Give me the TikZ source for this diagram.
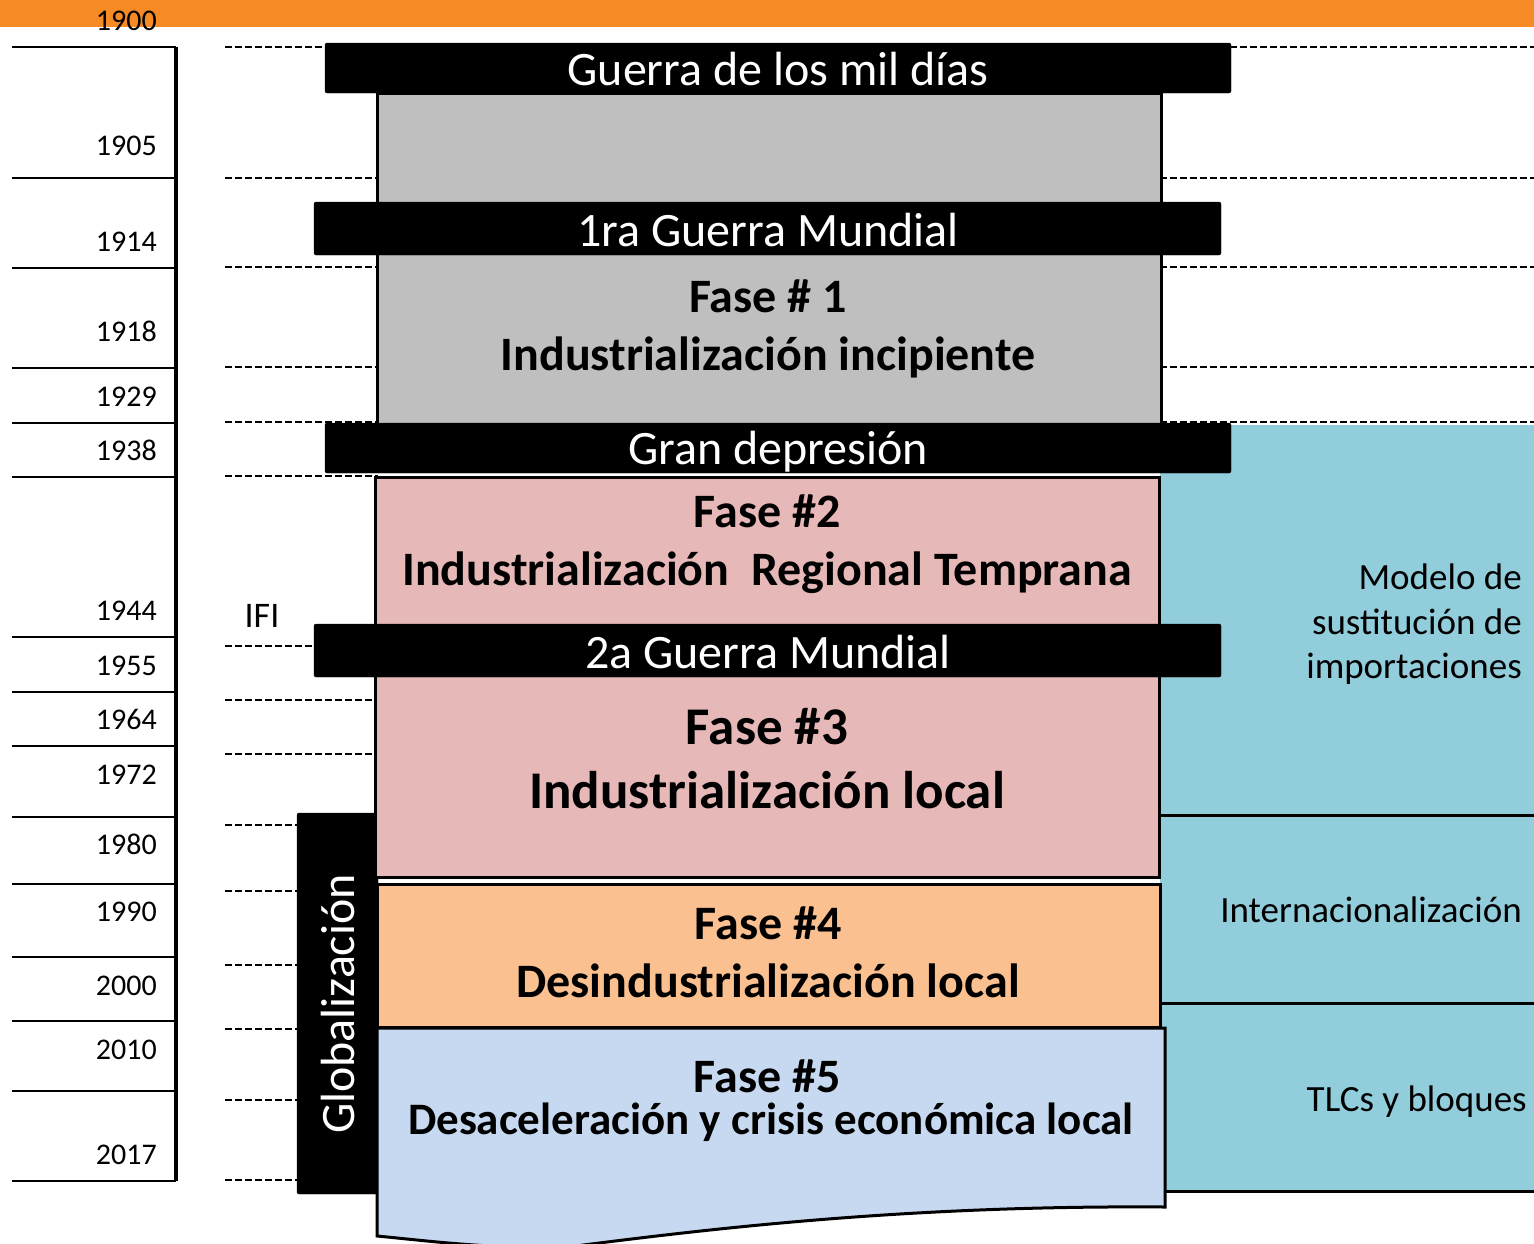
\documentclass[tikz,border=0pt]{standalone}
\usepackage{fontspec}
\setmainfont{Carlito}
\definecolor{obar}{HTML}{F68B26}
\definecolor{gblock}{HTML}{BFBFBF}
\definecolor{pblock}{HTML}{E6B8B7}
\definecolor{oblock}{HTML}{FAC090}
\definecolor{lblock}{HTML}{C6D9F1}
\definecolor{bregion}{HTML}{92CDDC}
\newcommand{\fsz}[1]{\fontsize{#1}{#1}\selectfont}
\tikzset{
  yearlbl/.style={anchor=base east, inner sep=0pt, font=\fsz{30}},
  tick/.style={line width=2.5pt},
  dashln/.style={line width=1.8pt, dash pattern=on 7pt off 3pt},
  blackbar/.style={fill=black, draw=black, rounded corners=2pt},
  bartext/.style={anchor=base, inner sep=0pt, text=white, font=\fsz{48}},
  phase/.style={anchor=base, inner sep=0pt, font=\fsz{48}\bfseries},
  block/.style={draw=black, line width=3pt},
  rtext/.style={anchor=base east, inner sep=0pt, font=\fsz{37}},
}
\begin{document}
\begin{tikzpicture}[x=1pt,y=-1pt]
\useasboundingbox (0,0) rectangle (1534,1243);
% orange title bar
\fill[obar] (0,0) rectangle (1534,27);
% right blue region
\fill[bregion] (1160,425) rectangle (1534,1191);
\draw[line width=3pt] (1160,815) -- (1534,815);
\draw[line width=3pt] (1160,1003) -- (1534,1003);
\draw[line width=3pt] (1160,1191) -- (1534,1191);
% timeline
\draw[line width=4pt] (176,47) -- (176,1181);
\foreach \yy in {47,178,268,368,423,477,637,692,746,817,884,957,1021,1091,1181}
  \draw[tick] (12,\yy) -- (176,\yy);
\node[yearlbl] (y1900) at (157,30) {1900};
\node[yearlbl] (y1905) at (157,155.5) {1905};
\node[yearlbl] (y1914) at (157,251.5) {1914};
\node[yearlbl] (y1918) at (157,341.5) {1918};
\node[yearlbl] (y1929) at (157,406.5) {1929};
\node[yearlbl] (y1938) at (157,460.5) {1938};
\node[yearlbl] (y1944) at (157,620.5) {1944};
\node[yearlbl] (y1955) at (157,675.5) {1955};
\node[yearlbl] (y1964) at (157,729.5) {1964};
\node[yearlbl] (y1972) at (157,784.5) {1972};
\node[yearlbl] (y1980) at (157,854.5) {1980};
\node[yearlbl] (y1990) at (157,921.5) {1990};
\node[yearlbl] (y2000) at (157,995.5) {2000};
\node[yearlbl] (y2010) at (157,1059.5) {2010};
\node[yearlbl] (y2017) at (157,1164.5) {2017};
% dashed guide lines
\foreach \yy in {47,178,267,367,422,476,646,700,754,825,891,965,1029,1100,1180}
  \draw[dashln] (225,\yy) -- (378,\yy);
\foreach \yy in {47,178,267,367,422}
  \draw[dashln] (1160,\yy) -- (1534,\yy);
% IFI
\node[anchor=base, inner sep=0pt, font=\fsz{36}] (ifi) at (262,627) {IFI};
% Globalizacion bar
\fill[blackbar] (297,813) rectangle (378,1194);
\node[rotate=90, text=white, inner sep=0pt, font=\fsz{48}] (glob) at (338,1004) {Globalización};
% blocks
\draw[block, fill=gblock] (377,93) rectangle (1161,425);
\draw[block, fill=pblock] (375,477) rectangle (1159,877);
\draw[block, fill=oblock] (377,884) rectangle (1160,1027);
\draw[block, fill=lblock] (377,1028) -- (1165,1028) -- (1165,1207)
  .. controls (900,1205) and (700,1230) .. (560,1248)
  .. controls (480,1248) and (420,1240) .. (377,1236) -- cycle;
% black event bars
\fill[blackbar] (325,43) rectangle (1231,93);
\node[bartext] (b1) at (778,85) {Guerra de los mil días};
\fill[blackbar] (314,202) rectangle (1221,255);
\node[bartext] (b2) at (768,246) {1ra Guerra Mundial};
\fill[blackbar] (325,423) rectangle (1231,473);
\node[bartext] (b3) at (778,464) {Gran depresión};
\fill[blackbar] (314,624) rectangle (1221,677);
\node[bartext] (b4) at (768,668) {2a Guerra Mundial};
% phase texts
\node[phase] (f1a) at (768,312) {Fase \# 1};
\node[phase] (f1b) at (768,370) {Industrialización incipiente};
\node[phase] (f2a) at (767,527) {Fase \#2};
\node[phase] (f2b) at (767,585) {Industrialización\ \ Regional Temprana};
\node[phase, font=\fsz{53}\bfseries] (f3a) at (767,744) {Fase \#3};
\node[phase, font=\fsz{53}\bfseries] (f3b) at (767,808) {Industrialización local};
\node[phase] (f4a) at (768,939) {Fase \#4};
\node[phase] (f4b) at (768,997) {Desindustrialización local};
\node[phase] (f5a) at (767,1092) {Fase \#5};
\node[phase, font=\fsz{45}\bfseries] (f5b) at (771,1134) {Desaceleración y crisis económica local};
% right texts
\node[rtext] (m1) at (1522,589) {Modelo de};
\node[rtext] (m2) at (1522,634) {sustitución de};
\node[rtext] (m3) at (1522,678) {importaciones};
\node[rtext] (int) at (1522,922) {Internacionalización};
\node[rtext] (tlc) at (1527,1111) {TLCs y bloques};
\end{tikzpicture}
\end{document}
